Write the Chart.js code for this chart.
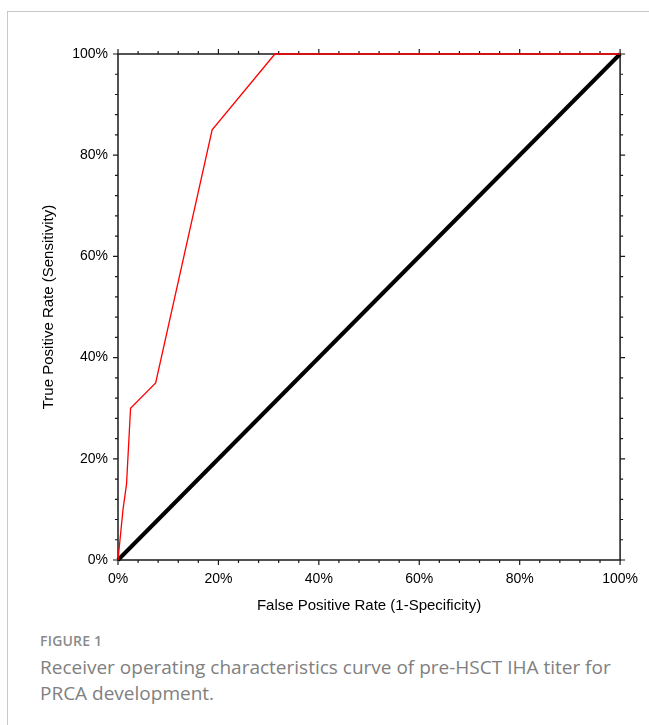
<!DOCTYPE html>
<html>
<head>
<meta charset="utf-8">
<script src="https://cdn.jsdelivr.net/npm/chart.js@4.4.1/dist/chart.umd.min.js"></script>
<style>
  html, body { margin: 0; padding: 0; background: #fff; width: 649px; height: 725px; overflow: hidden; }
  #frame { position: absolute; left: 7px; top: 11px; right: -2px; bottom: -2px; border-top: 1px solid #c8c8c8; border-left: 1px solid #c8c8c8; }
  #wrap { position: absolute; left: 0; top: 0; width: 649px; height: 620px; }
  #figlabel { position: absolute; left: 40px; top: 631px; font-family: "Open Sans", sans-serif; font-size: 14px; font-weight: 600; color: #8a8a8a; letter-spacing: 0.2px; }
  #caption { position: absolute; left: 40px; top: 654px; width: 585px; font-family: "Open Sans", sans-serif; font-size: 19px; font-weight: 400; line-height: 26px; color: #808080; }
</style>
</head>
<body>
<div id="frame"></div>
<div id="wrap"><canvas id="c" width="649" height="620"></canvas></div>
<div id="figlabel">FIGURE 1</div>
<div id="caption">Receiver operating characteristics curve of pre-HSCT IHA titer for PRCA development.</div>
<script>
// ROC curve points (False Positive Rate, True Positive Rate)
const rocFPR = [0, 0.01, 0.017, 0.025, 0.075, 0.1875, 0.3125, 1.0];
const rocTPR = [0, 0.10, 0.15, 0.30, 0.35, 0.85, 1.0, 1.0];
// reference (chance) line
const refFPR = [0, 1];
const refTPR = [0, 1];
// axis ticks
const majorTicks = [0, 0.2, 0.4, 0.6, 0.8, 1.0];
const majorTickLabels = ['0%', '20%', '40%', '60%', '80%', '100%'];
const minorStep = 0.04;
const xTitle = 'False Positive Rate (1-Specificity)';
const yTitle = 'True Positive Rate (Sensitivity)';

const toXY = (xs, ys) => xs.map((x, i) => ({ x: x, y: ys[i] }));
const labelFor = (v) => {
  const i = majorTicks.findIndex(t => Math.abs(t - v) < 1e-6);
  return i >= 0 ? majorTickLabels[i] : '';
};
const tickFont = { family: 'Liberation Sans, Arial, sans-serif', size: 14 };
const titleFont = { family: 'Liberation Sans, Arial, sans-serif', size: 15 };

const framePlugin = {
  id: 'frameTicks',
  beforeDatasetsDraw(chart) {
    const ctx = chart.ctx;
    const a = chart.chartArea;
    const xs = chart.scales.x, ys = chart.scales.y;
    ctx.save();
    ctx.strokeStyle = '#1a1a1a';
    ctx.lineWidth = 1.5;
    ctx.beginPath();
    ctx.rect(a.left, a.top, a.right - a.left, a.bottom - a.top);
    ctx.stroke();
    ctx.lineWidth = 1.2;
    const n = Math.round(1 / minorStep);
    for (let k = 0; k <= n; k++) {
      const v = k * minorStep;
      const major = labelFor(v) !== '';
      const len = major ? 5 : 3;
      const px = xs.getPixelForValue(v);
      const py = ys.getPixelForValue(v);
      ctx.beginPath();
      ctx.moveTo(px, a.bottom); ctx.lineTo(px, a.bottom + len);
      ctx.moveTo(px, a.top); ctx.lineTo(px, a.top - len);
      ctx.moveTo(a.left, py); ctx.lineTo(a.left - len, py);
      ctx.moveTo(a.right, py); ctx.lineTo(a.right + len, py);
      ctx.stroke();
    }
    ctx.restore();
  }
};

new Chart(document.getElementById('c'), {
  type: 'scatter',
  data: {
    datasets: [
      {
        label: 'ROC',
        data: toXY(rocFPR, rocTPR),
        showLine: true,
        borderColor: '#ff0000',
        borderWidth: 1.3,
        pointRadius: 0,
        fill: false,
        tension: 0,
        clip: 6
      },
      {
        label: 'Reference',
        data: toXY(refFPR, refTPR),
        showLine: true,
        borderColor: '#000000',
        borderWidth: 4,
        pointRadius: 0,
        fill: false,
        tension: 0,
        clip: 6
      }
    ]
  },
  options: {
    responsive: false,
    animation: false,
    devicePixelRatio: 1,
    layout: { padding: 0 },
    plugins: { legend: { display: false }, tooltip: { enabled: false }, title: { display: false } },
    scales: {
      x: {
        type: 'linear', position: 'bottom', min: 0, max: 1,
        afterFit(s) { s.height = 60; },
        border: { display: false },
        grid: { display: false, drawTicks: false },
        ticks: { stepSize: 0.2, padding: 11, color: '#000', font: tickFont, maxRotation: 0, callback: (v) => labelFor(v) },
        title: { display: true, text: xTitle, color: '#000', font: titleFont, padding: { top: 0, bottom: 5 } }
      },
      y: {
        type: 'linear', position: 'left', min: 0, max: 1,
        afterFit(s) { s.width = 118; },
        border: { display: false },
        grid: { display: false, drawTicks: false },
        ticks: { stepSize: 0.2, padding: 10, color: '#000', font: tickFont, callback: (v) => labelFor(v) },
        title: { display: true, text: yTitle, color: '#000', font: titleFont, padding: { top: 40, bottom: 0 } }
      },
      x2: {
        type: 'linear', position: 'top', min: 0, max: 1,
        afterFit(s) { s.height = 54; },
        border: { display: false },
        grid: { display: false, drawTicks: false },
        ticks: { display: false }
      },
      y2: {
        type: 'linear', position: 'right', min: 0, max: 1,
        afterFit(s) { s.width = 26; },
        border: { display: false },
        grid: { display: false, drawTicks: false },
        ticks: { display: false }
      }
    }
  },
  plugins: [framePlugin]
});
</script>
</body>
</html>
